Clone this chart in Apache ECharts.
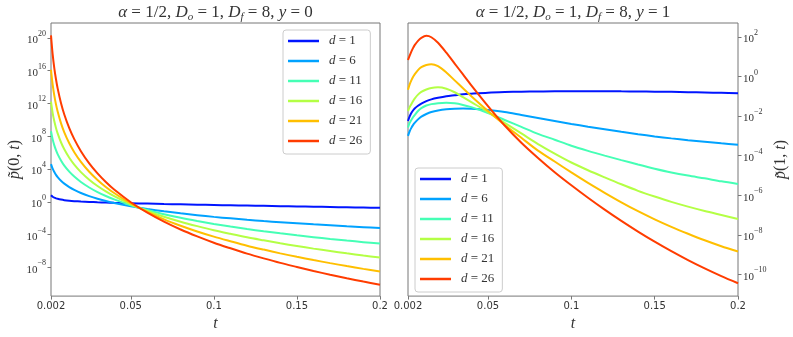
<!DOCTYPE html>
<html><head><meta charset="utf-8">
<script src="https://cdn.jsdelivr.net/npm/echarts@6/dist/echarts.min.js"></script>
<style>html,body{margin:0;padding:0;background:#fff}#c{width:793px;height:337px}</style>
</head><body><div id="c"></div>
<script>
// ---- data (log10 of the plotted value) ----
const tValues = [0.002,0.003,0.004,0.005,0.006,0.008,0.01,0.013,0.016,0.02,0.025,0.03,0.035,0.04,0.05,0.06,0.07,0.08,0.09,0.1,0.11,0.12,0.13,0.14,0.15,0.16,0.17,0.18,0.19,0.2];
const seriesNames = ['d = 1','d = 6','d = 11','d = 16','d = 21','d = 26'];
const xTickValues = [0.002,0.05,0.1,0.15,0.2];
const leftYTickExps = [-8,-4,0,4,8,12,16,20];
const rightYTickExps = [-10,-8,-6,-4,-2,0,2];

// left panel: p(0,t), y = 0
const left_d1  = [0.80,0.62,0.50,0.42,0.36,0.27,0.20,0.13,0.08,0.03,-0.02,-0.06,-0.09,-0.12,-0.17,-0.22,-0.27,-0.31,-0.35,-0.39,-0.425,-0.46,-0.495,-0.53,-0.565,-0.60,-0.635,-0.67,-0.70,-0.73];
const left_d6  = [4.6,4.03,3.62,3.28,3.01,2.56,2.21,1.79,1.45,1.07,0.69,0.37,0.10,-0.14,-0.54,-0.87,-1.16,-1.41,-1.63,-1.84,-2.02,-2.19,-2.35,-2.49,-2.62,-2.75,-2.87,-2.99,-3.10,-3.20];
const left_d11 = [8.6,7.61,6.88,6.29,5.81,5.03,4.41,3.67,3.07,2.41,1.74,1.18,0.71,0.29,-0.42,-1.01,-1.51,-1.95,-2.34,-2.70,-3.02,-3.32,-3.59,-3.85,-4.09,-4.31,-4.53,-4.73,-4.92,-5.10];
const left_d16 = [12.2,10.82,9.81,9.01,8.34,7.26,6.40,5.36,4.53,3.62,2.69,1.92,1.26,0.68,-0.31,-1.12,-1.82,-2.43,-2.97,-3.47,-3.91,-4.33,-4.70,-5.06,-5.39,-5.71,-6.00,-6.28,-6.55,-6.80];
const left_d21 = [16.1,14.28,12.94,11.88,11.01,9.59,8.47,7.13,6.05,4.87,3.66,2.67,1.81,1.07,-0.20,-1.24,-2.14,-2.92,-3.62,-4.25,-4.81,-5.35,-5.83,-6.29,-6.71,-7.11,-7.48,-7.84,-8.18,-8.50];
const left_d26 = [20.3,17.97,16.27,14.94,13.83,12.05,10.65,8.98,7.64,6.17,4.68,3.46,2.41,1.49,-0.05,-1.33,-2.42,-3.38,-4.22,-4.99,-5.67,-6.32,-6.90,-7.45,-7.95,-8.44,-8.89,-9.32,-9.73,-10.12];

// right panel: p(1,t), y = 1
const right_d1  = [-2.25,-2.02,-1.85,-1.72,-1.62,-1.48,-1.37,-1.25,-1.16,-1.08,-1.0,-0.95,-0.9,-0.87,-0.82,-0.79,-0.77,-0.76,-0.75,-0.75,-0.75,-0.75,-0.755,-0.76,-0.77,-0.78,-0.795,-0.81,-0.83,-0.85];
const right_d6  = [-3.0,-2.77,-2.6,-2.46,-2.35,-2.17,-2.03,-1.9,-1.8,-1.72,-1.66,-1.63,-1.62,-1.63,-1.7,-1.8,-1.95,-2.1,-2.25,-2.4,-2.54,-2.67,-2.80,-2.92,-3.03,-3.13,-3.22,-3.3,-3.38,-3.45];
const right_d11 = [-2.58,-2.35,-2.2,-2.06,-1.95,-1.75,-1.6,-1.47,-1.4,-1.35,-1.33,-1.36,-1.44,-1.55,-1.85,-2.2,-2.55,-2.9,-3.2,-3.5,-3.76,-4.0,-4.23,-4.45,-4.66,-4.85,-5.01,-5.15,-5.30,-5.43];
const right_d16 = [-1.75,-1.55,-1.4,-1.25,-1.12,-0.92,-0.78,-0.66,-0.58,-0.55,-0.62,-0.8,-1.05,-1.3,-1.8,-2.35,-2.88,-3.42,-3.9,-4.35,-4.74,-5.1,-5.45,-5.78,-6.07,-6.34,-6.58,-6.8,-7.0,-7.2];
const right_d21 = [-0.67,-0.40,-0.2,-0.03,0.1,0.32,0.47,0.58,0.62,0.52,0.2,-0.2,-0.6,-1.0,-1.75,-2.45,-3.1,-3.75,-4.3,-4.85,-5.38,-5.88,-6.36,-6.81,-7.22,-7.60,-7.95,-8.28,-8.58,-8.85];
const right_d26 = [0.83,1.05,1.25,1.43,1.58,1.8,1.95,2.05,1.98,1.7,1.2,0.65,0.1,-0.45,-1.5,-2.48,-3.35,-4.12,-4.84,-5.5,-6.13,-6.73,-7.30,-7.84,-8.35,-8.83,-9.28,-9.70,-10.09,-10.45];

const colors = ['#0015ff','#00a2ff','#45ffb5','#b4ff45','#ffbf00','#ff3c00'];
const leftSets = [left_d1,left_d6,left_d11,left_d16,left_d21,left_d26];
const rightSets = [right_d1,right_d6,right_d11,right_d16,right_d21,right_d26];

const SERIF = 'Liberation Serif';
const frame = '#777';
const textCol = '#333';

function pts(exps){ return tValues.map((t,i)=>[t, Math.pow(10, exps[i])]); }
function powLabel(v){
  const e = Math.round(Math.log10(v));
  return '{b|10}{s|' + (e < 0 ? '\u2212' + (-e) : e) + '}';
}
const powRich = {
  b:{fontFamily:SERIF,fontSize:11,lineHeight:16,verticalAlign:'bottom',color:textCol},
  s:{fontFamily:SERIF,fontSize:8,lineHeight:13,verticalAlign:'top',color:textCol}
};
const nameRich = {
  i:{fontFamily:SERIF,fontStyle:'italic',fontSize:16,color:textCol},
  r:{fontFamily:SERIF,fontSize:16,color:textCol}
};

function xAxisCfg(gi){
  return {type:'value', gridIndex:gi, min:0.002, max:0.2,
    name:'{i|t}', nameLocation:'middle', nameGap:17, nameTextStyle:{rich:nameRich},
    axisLine:{show:false}, splitLine:{show:false},
    axisTick:{show:true, length:3.5, customValues:xTickValues, lineStyle:{color:frame}},
    axisLabel:{customValues:xTickValues, margin:5, fontFamily:'DejaVu Sans', fontSize:10, color:textCol,
      formatter:v=>String(+v.toFixed(3))}};
}
function yAxisCfg(gi, pos, lo, hi, exps, nm, gap){
  const vals = exps.map(e=>Math.pow(10,e));
  return {type:'log', logBase:10, gridIndex:gi, position:pos, min:Math.pow(10,lo), max:Math.pow(10,hi),
    name:nm, nameLocation:'middle', nameGap:gap, nameRotate:90, nameTextStyle:{rich:nameRich},
    axisLine:{show:false}, splitLine:{show:false}, minorTick:{show:false},
    axisTick:{show:true, length:3.5, customValues:vals, lineStyle:{color:frame}},
    axisLabel:{customValues:vals, margin:5, formatter:powLabel, rich:powRich}};
}

const series = [];
seriesNames.forEach((n,k)=>{
  series.push({type:'line', name:n, xAxisIndex:0, yAxisIndex:0, data:pts(leftSets[k]),
    showSymbol:false, smooth:0.3, lineStyle:{width:2, color:colors[k]}, itemStyle:{color:colors[k]}});
});
seriesNames.forEach((n,k)=>{
  series.push({type:'line', name:n, xAxisIndex:1, yAxisIndex:1, data:pts(rightSets[k]),
    showSymbol:false, smooth:0.3, lineStyle:{width:2, color:colors[k]}, itemStyle:{color:colors[k]}});
});

function legendCfg(l, t){
  return {orient:'vertical', left:l, top:t, data:seriesNames, selectedMode:false,
    icon:'rect', itemWidth:31, itemHeight:2.5, itemGap:4,
    padding:[3,8,5,5], backgroundColor:'#fff', borderColor:'#ccc', borderWidth:1, borderRadius:3,
    formatter:n=>'{i|d} = ' + n.split('= ')[1],
    textStyle:{fontFamily:SERIF, fontSize:13, lineHeight:16, color:textCol, padding:[0,0,0,5],
      rich:{i:{fontFamily:SERIF, fontStyle:'italic', fontSize:13, lineHeight:16, color:textCol}}}};
}
function titleText(x, yv){
  return {type:'text', x:x, y:13, z:10, style:{
    text:'{i|\u03b1} = 1/2, {i|D}{s|o} = 1, {i|D}{s|f} = 8, {i|y} = ' + yv,
    align:'center', verticalAlign:'middle', fontFamily:SERIF, fontSize:17, lineHeight:20, fill:textCol,
    rich:{i:{fontFamily:SERIF, fontStyle:'italic', fontSize:17, lineHeight:20, fill:textCol},
          s:{fontFamily:SERIF, fontStyle:'italic', fontSize:11, lineHeight:10, verticalAlign:'bottom', fill:textCol}}}};
}

const chart = echarts.init(document.getElementById('c'), null, {renderer:'canvas'});
chart.setOption({
  animation:false,
  backgroundColor:'#fff',
  grid:[
    {left:51, right:413, top:23, bottom:39, show:true, borderColor:frame, borderWidth:1, backgroundColor:'transparent'},
    {left:408, right:55, top:23, bottom:39, show:true, borderColor:frame, borderWidth:1, backgroundColor:'transparent'}
  ],
  xAxis:[xAxisCfg(0), xAxisCfg(1)],
  yAxis:[
    yAxisCfg(0,'left',-11.5,21.8,leftYTickExps,'{i|p\u0303}{r|(0, }{i|t}{r|)}',28),
    yAxisCfg(1,'right',-11.1,2.7,rightYTickExps,'{i|p\u0303}{r|(1, }{i|t}{r|)}',35)
  ],
  legend:[legendCfg(283,30), legendCfg(415,168)],
  graphic:[titleText(215.5,'0'), titleText(573,'1')],
  series:series
});
</script></body></html>
